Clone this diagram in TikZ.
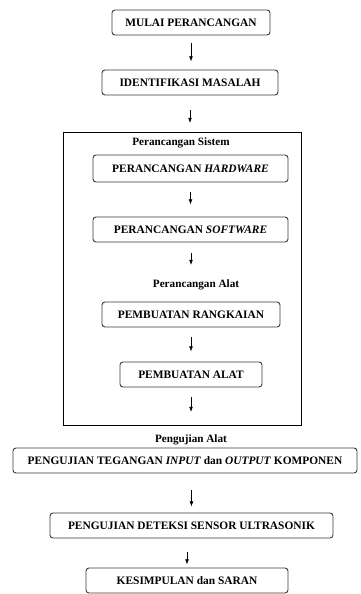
\documentclass[tikz,border=0pt]{standalone}
\usepackage{fontspec}
\setmainfont{Liberation Serif}
\usepackage{tikz}
\usetikzlibrary{arrows.meta,positioning}
\definecolor{garis}{HTML}{3A3A3A}
\tikzset{
  kotak/.style={draw=garis,rounded corners=3pt,line width=0.9pt,minimum height=25,inner sep=1pt,
    font=\fontsize{11.4}{12}\selectfont\bfseries},
  panah/.style={-{Latex[length=1.8mm,width=1.3mm]},black,line width=0.6pt},
  judul/.style={font=\fontsize{11.2}{12}\selectfont\bfseries},
  bingkai/.style={draw=black,line width=0.6pt},
}
\begin{document}
\begin{tikzpicture}[x=1pt,y=-1pt]
  \useasboundingbox (0,0) rectangle (361,594);
  % alur utama
  \node[kotak,minimum width=158] (mulai) at (191,22.5) {MULAI PERANCANGAN};
  \node[kotak,minimum width=176] (identifikasi) at (190,82.5) {IDENTIFIKASI MASALAH};
  \draw[bingkai] (63,132) rectangle (301,425);
  \node[judul] (sistem) at (181,143) {Perancangan Sistem};
  \node[kotak,minimum width=195,minimum height=27] (hardware) at (190.5,168.5) {PERANCANGAN \textit{HARDWARE}};
  \node[kotak,minimum width=195] (software) at (190.5,229.5) {PERANCANGAN \textit{SOFTWARE}};
  \node[judul] (alat) at (196,285) {Perancangan Alat};
  \node[kotak,minimum width=178] (rangkaian) at (191,314.5) {PEMBUATAN RANGKAIAN};
  \node[kotak,minimum width=142] (pembuatan) at (191,374.5) {PEMBUATAN ALAT};
  \node[judul] (uji) at (191,440) {Pengujian Alat};
  \node[kotak,minimum width=344] (tegangan) at (185,460.5) {PENGUJIAN TEGANGAN \textit{INPUT} dan \textit{OUTPUT} KOMPONEN};
  \node[kotak,minimum width=283] (sensor) at (191.5,525.5) {PENGUJIAN DETEKSI SENSOR ULTRASONIK};
  \node[kotak,minimum width=202] (kesimpulan) at (187,580.5) {KESIMPULAN dan SARAN};
  % ujung panah bebas
  \coordinate (u1) at (190,123);
  \coordinate (u2) at (191,265);
  \coordinate (u3) at (191,412);
  % panah
  \draw[panah,shorten <=8,shorten >=8] (mulai.south) -- (mulai.south |- identifikasi.north);
  \draw[panah,shorten <=15] (identifikasi.south) -- (u1);
  \draw[panah,shorten <=10,shorten >=12] (hardware.south) -- (hardware.south |- software.north);
  \draw[panah,shorten <=11] (software.south -| u2) -- (u2);
  \draw[panah,shorten <=10,shorten >=10] (rangkaian.south) -- (rangkaian.south |- pembuatan.north);
  \draw[panah,shorten <=10] (pembuatan.south) -- (u3);
  \draw[panah,shorten <=17,shorten >=6] (tegangan.south -| sensor.north) -- (sensor.north);
  \draw[panah,shorten <=14,shorten >=3] (sensor.south -| kesimpulan.north) -- (kesimpulan.north);
\end{tikzpicture}
\end{document}
